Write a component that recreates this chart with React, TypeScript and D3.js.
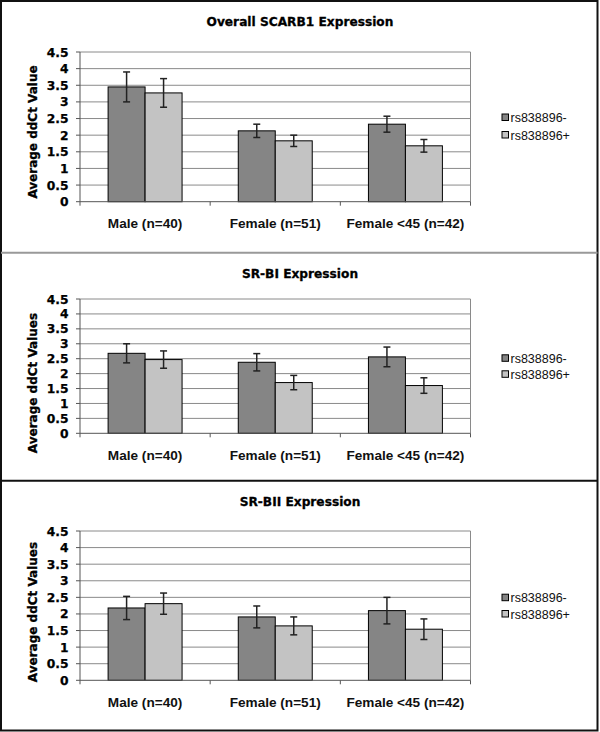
import React from "react";
import * as d3 from "d3";

const categories = ["Male (n=40)", "Female (n=51)", "Female <45 (n=42)"];
const seriesNames = ["rs838896-", "rs838896+"];
const seriesColors = ["#858585", "#c3c3c3"];
const yTicks = [0, 0.5, 1, 1.5, 2, 2.5, 3, 3.5, 4, 4.5];
const yTickLabels = ["0", "0.5", "1", "1.5", "2", "2.5", "3", "3.5", "4", "4.5"];

const scarb1Neg = [3.45, 2.13, 2.33];
const scarb1NegErr = [0.45, 0.2, 0.24];
const scarb1Pos = [3.27, 1.83, 1.68];
const scarb1PosErr = [0.43, 0.17, 0.19];

const srbiNeg = [2.68, 2.38, 2.56];
const srbiNegErr = [0.32, 0.29, 0.33];
const srbiPos = [2.47, 1.7, 1.6];
const srbiPosErr = [0.29, 0.24, 0.26];

const srbiiNeg = [2.18, 1.91, 2.1];
const srbiiNegErr = [0.35, 0.33, 0.4];
const srbiiPos = [2.31, 1.64, 1.54];
const srbiiPosErr = [0.32, 0.27, 0.31];

const titles = ["Overall SCARB1 Expression", "SR-BI Expression", "SR-BII Expression"];
const yLabels = ["Average ddCt Value", "Average ddCt Values", "Average ddCt Values"];

const panelValues = [
  [scarb1Neg, scarb1Pos],
  [srbiNeg, srbiPos],
  [srbiiNeg, srbiiPos],
];
const panelErrors = [
  [scarb1NegErr, scarb1PosErr],
  [srbiNegErr, srbiPosErr],
  [srbiiNegErr, srbiiPosErr],
];

// layout per panel
const layouts = [
  { titleY: 26, plotTop: 52, plotBottom: 201.7, catY: 228, yLabelY: 132, legendY: [117.5, 135] },
  { titleY: 277.5, plotTop: 299, plotBottom: 433.3, catY: 460, yLabelY: 383, legendY: [358.3, 374.3] },
  { titleY: 506, plotTop: 531, plotBottom: 680.3, catY: 707, yLabelY: 612, legendY: [597.7, 614] },
];

const plotLeft = 80;
const plotRight = 470.5;

const boldFont = "'DejaVu Sans', Verdana, sans-serif";
const catFont = "'Liberation Sans', Arial, sans-serif";

function Panel({ idx }: { idx: number }) {
  const L = layouts[idx];
  const y = d3.scaleLinear().domain([0, 4.5]).range([L.plotBottom, L.plotTop]);
  const x0 = d3.scaleBand<string>().domain(categories).range([plotLeft, plotRight]).paddingInner(0).paddingOuter(0);
  const x1 = d3
    .scaleBand<string>()
    .domain(seriesNames)
    .range([0, x0.bandwidth()])
    .paddingInner(0)
    .paddingOuter(0.76);
  const values = panelValues[idx];
  const errs = panelErrors[idx];
  const capHalf = 3.5;
  return (
    <g>
      <text
        x={300}
        y={L.titleY}
        textAnchor="middle"
        fontFamily={boldFont}
        fontWeight="bold"
        fontSize={12.2}
        stroke="#000"
        strokeWidth={0.3}
      >
        {titles[idx]}
      </text>
      {/* gridlines */}
      {yTicks.slice(1).map((t) => (
        <line key={t} x1={plotLeft} x2={plotRight} y1={y(t)} y2={y(t)} stroke="#8a8a8a" strokeWidth={1} />
      ))}
      {/* right border */}
      <line x1={plotRight} x2={plotRight} y1={y(4.5)} y2={y(0)} stroke="#8a8a8a" strokeWidth={1} />
      {/* bars */}
      {categories.map((c, ci) =>
        seriesNames.map((s, si) => {
          const v = values[si][ci];
          const bx = (x0(c) as number) + (x1(s) as number);
          const bw = x1.bandwidth();
          return (
            <rect
              key={c + s}
              x={bx}
              y={y(v)}
              width={bw}
              height={y(0) - y(v)}
              fill={seriesColors[si]}
              stroke="#000"
              strokeWidth={1}
            />
          );
        })
      )}
      {/* error bars */}
      {categories.map((c, ci) =>
        seriesNames.map((s, si) => {
          const v = values[si][ci];
          const e = errs[si][ci];
          const cx = (x0(c) as number) + (x1(s) as number) + x1.bandwidth() / 2;
          return (
            <g key={"e" + c + s} stroke="#222" strokeWidth={1.5}>
              <line x1={cx} x2={cx} y1={y(v + e)} y2={y(v - e)} />
              <line x1={cx - capHalf} x2={cx + capHalf} y1={y(v + e)} y2={y(v + e)} />
              <line x1={cx - capHalf} x2={cx + capHalf} y1={y(v - e)} y2={y(v - e)} />
            </g>
          );
        })
      )}
      {/* y axis */}
      <line x1={plotLeft} x2={plotLeft} y1={y(4.5)} y2={y(0)} stroke="#555" strokeWidth={1} />
      {yTicks.map((t, i) => (
        <g key={"yt" + t}>
          <line x1={plotLeft - 4} x2={plotLeft} y1={y(t)} y2={y(t)} stroke="#555" strokeWidth={1} />
          <text
            x={plotLeft - 11.5}
            y={y(t) + 4.5}
            textAnchor="end"
            fontFamily={boldFont}
            fontWeight="bold"
            fontSize={12.3}
            stroke="#000"
            strokeWidth={0.25}
          >
            {yTickLabels[i]}
          </text>
        </g>
      ))}
      {/* x axis */}
      <line x1={plotLeft} x2={plotRight} y1={y(0)} y2={y(0)} stroke="#555" strokeWidth={1} />
      {[...categories.map((c) => x0(c) as number), plotRight].map((tx, i) => (
        <line key={"xt" + i} x1={tx} x2={tx} y1={y(0)} y2={y(0) + 4} stroke="#555" strokeWidth={1} />
      ))}
      {categories.map((c) => (
        <text
          key={"cl" + c}
          x={(x0(c) as number) + x0.bandwidth() / 2}
          y={L.catY}
          textAnchor="middle"
          fontFamily={catFont}
          fontWeight="bold"
          fontSize={13.6}
          fill="#111"
        >
          {c}
        </text>
      ))}
      {/* y label */}
      <text
        transform={`translate(37, ${L.yLabelY}) rotate(-90)`}
        textAnchor="middle"
        fontFamily={boldFont}
        fontWeight="bold"
        fontSize={12}
        stroke="#000"
        strokeWidth={0.3}
      >
        {yLabels[idx]}
      </text>
      {/* legend */}
      {seriesNames.map((s, si) => (
        <g key={"lg" + s}>
          <rect
            x={502}
            y={L.legendY[si] - 3.5}
            width={6.5}
            height={6.5}
            fill={seriesColors[si]}
            stroke="#000"
            strokeWidth={1}
          />
          <text x={510.5} y={L.legendY[si] + 4.5} fontFamily={catFont} fontSize={12.5} fill="#111">
            {s}
          </text>
        </g>
      ))}
    </g>
  );
}

export default function App() {
  return (
    <svg
      width={600}
      height={732}
      viewBox="0 0 600 732"
      style={{ position: "absolute", left: 0, top: 0, background: "#fff" }}
    >
      <rect x={0} y={0} width={600} height={732} fill="#fff" />
      {[0, 1, 2].map((i) => (
        <Panel key={i} idx={i} />
      ))}
      {/* frames */}
      <rect x={1} y={1} width={596.5} height={729.5} fill="none" stroke="#111" strokeWidth={2} />
      <line x1={1} x2={597.5} y1={252.8} y2={252.8} stroke="#999" strokeWidth={2} />
      <line x1={1} x2={597.5} y1={480.8} y2={480.8} stroke="#111" strokeWidth={2} />
    </svg>
  );
}
